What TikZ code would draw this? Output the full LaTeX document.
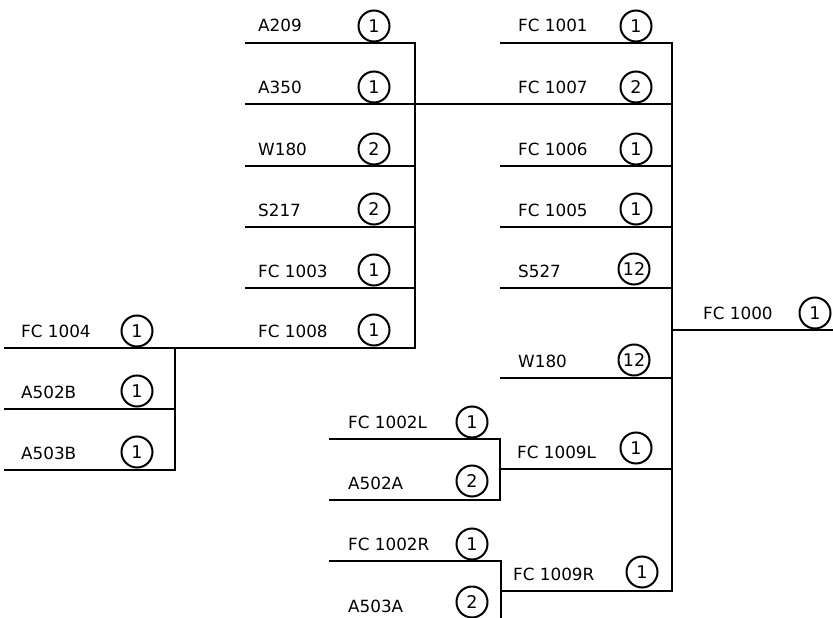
\documentclass[tikz,border=0pt]{standalone}
\usepackage{fontspec}
\setmainfont{DejaVu Sans}
\newcommand\brnch[9]{% name, x1, x2, y, label, label x, qty, qty x, qty y
  \coordinate (#1-l) at (#2,#4);
  \coordinate (#1-r) at (#3,#4);
  \draw[wire] (#1-l) -- (#1-r);
  \node[lbl] (#1-t) at (#6,#4-11) {#5};
  \node[qty] (#1-q) at (#8,#9) {#7};
}
\begin{document}
\begin{tikzpicture}[x=1pt,y=-1pt,
  wire/.style={line width=2.5pt, line cap=rect},
  lbl/.style={anchor=base west, inner sep=0pt, font=\fontsize{16.8}{17}\selectfont},
  qty/.style={draw, circle, line width=2pt, minimum size=31pt, inner sep=0pt,
              font=\fontsize{17.5}{17.5}\selectfont}]
\useasboundingbox (0,0) rectangle (833,618);

% middle column (children of FC 1007)
\brnch{a209}{246}{415}{43}{A209}{258}{1}{374}{26}
\brnch{a350}{246}{415}{104}{A350}{258}{1}{374}{87}
\brnch{w180a}{246}{415}{166}{W180}{258}{2}{374}{149}
\brnch{s217}{246}{415}{227}{S217}{258}{2}{374}{209}
\brnch{fc1003}{246}{415}{288}{FC 1003}{258}{1}{374}{270}
\brnch{fc1008}{175}{415}{348}{FC 1008}{258}{1}{374}{330}
\draw[wire] (a209-r) -- (fc1008-r);

% left group (children of FC 1008)
\brnch{fc1004}{5}{175}{348}{FC 1004}{21}{1}{137}{331}
\brnch{a502b}{5}{175}{409}{A502B}{21}{1}{137}{391}
\brnch{a503b}{5}{175}{470}{A503B}{21}{1}{137}{452}
\draw[wire] (fc1004-r) -- (a503b-r);

% lower-left groups
\brnch{fc1002l}{330}{500}{439}{FC 1002L}{348}{1}{472}{422}
\brnch{a502a}{330}{500}{500}{A502A}{348}{2}{472}{481}
\draw[wire] (fc1002l-r) -- (a502a-r);
\brnch{fc1002r}{330}{501}{561}{FC 1002R}{348}{1}{472}{544}
\coordinate (a503a-r) at (501,618);
\node[lbl] (a503a-t) at (348,612) {A503A};
\node[qty] (a503a-q) at (472,602) {2};
\draw[wire] (fc1002r-r) -- (a503a-r);

% right column (children of FC 1000)
\brnch{fc1001}{501}{672}{43}{FC 1001}{518}{1}{636}{26}
\brnch{fc1007}{415}{672}{104}{FC 1007}{518}{2}{636}{87}
\brnch{fc1006}{501}{672}{166}{FC 1006}{518}{1}{636}{149}
\brnch{fc1005}{501}{672}{227}{FC 1005}{518}{1}{636}{209}
\brnch{s527}{501}{672}{288}{S527}{518}{12}{634}{269}
\brnch{w180b}{501}{672}{378}{W180}{518}{12}{634}{360}
\brnch{fc1009l}{500}{672}{469}{FC 1009L}{517}{1}{636}{448}
\brnch{fc1009r}{501}{672}{591}{FC 1009R}{513}{1}{642}{572}
\draw[wire] (fc1001-r) -- (fc1009r-r);

% root
\brnch{fc1000}{672}{833}{330}{FC 1000}{703}{1}{815}{313}
\end{tikzpicture}
\end{document}
